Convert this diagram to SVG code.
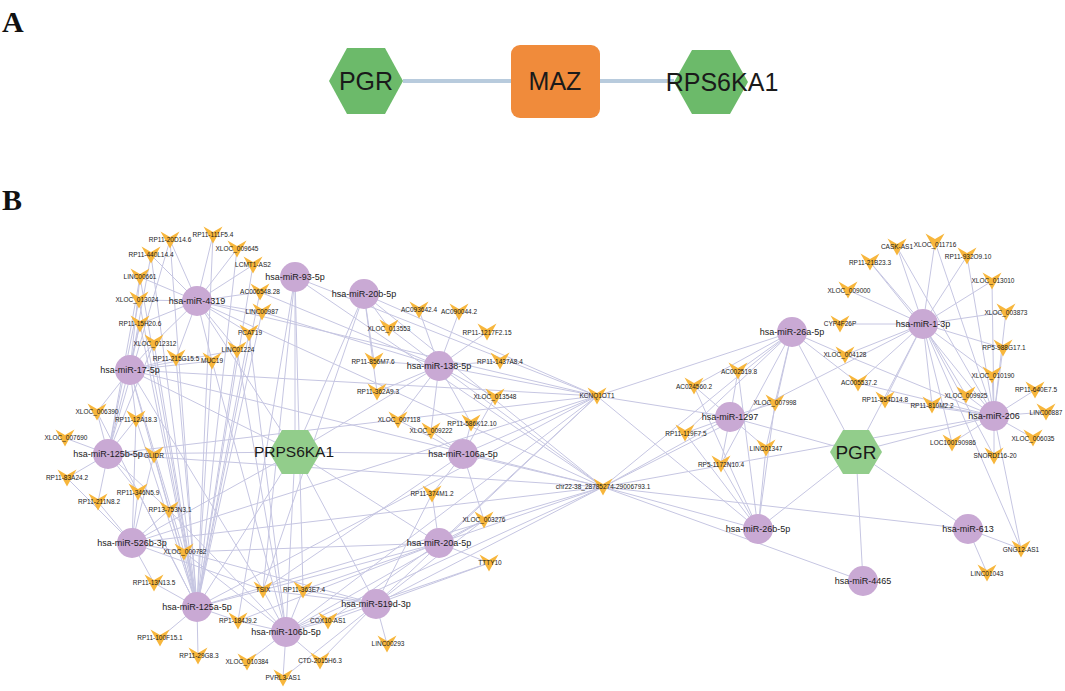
<svg xmlns="http://www.w3.org/2000/svg" xmlns:xlink="http://www.w3.org/1999/xlink" width="1065" height="691" viewBox="0 0 1065 691">
<defs>
<style>
.e{stroke:#c6c6e2;stroke-width:1;fill:none}
.ea{stroke:#b8cbdd;stroke-width:4;fill:none}
.v{fill:#f7b63c}
.m{fill:#c9a9d4}
.h{fill:#92cd8b}
.ha{fill:#6cba6a}
.t{font-family:"Liberation Sans",Arial,sans-serif;fill:#1a1a1a;text-anchor:middle}
.s{font-size:6.5px}
.mt{font-size:9px}
.big{font-size:25px}
.lab{font-family:"Liberation Serif","Times New Roman",serif;font-weight:bold;font-size:30px;fill:#111}
</style>
<path id="vv" d="M-9.5,-8.5 L0,-3 L9.5,-8.5 L0,8.5 Z"/>
</defs>
<rect width="1065" height="691" fill="#fff"/>
<text class="lab" x="2" y="32">A</text>
<text class="lab" x="2" y="210">B</text>

<g id="edges-A">
<path class="ea" d="M403 81L511 81"/>
<path class="ea" d="M600 81L674 81"/>
</g>
<g id="A-PGR"><polygon class="ha" points="329,81 347,48 385,48 403,81 385,114 347,114"/><text class="t big" x="366" y="81" dy="0.35em">PGR</text></g>
<g id="A-MAZ"><rect x="511" y="45" width="89" height="73" rx="9" fill="#f08b3b"/><text class="t big" x="555" y="81" dy="0.35em">MAZ</text></g>
<g id="A-RPS6KA1"><polygon class="ha" points="674,82 692,50 730,50 748,82 730,114 692,114"/><text class="t big" x="722" y="82" dy="0.35em">RPS6KA1</text></g>

<g id="edges">
<!-- miR-4319 -->
<path class="e" d="M197 301L170 240"/><path class="e" d="M197 301L213 235"/><path class="e" d="M197 301L237 249"/><path class="e" d="M197 301L151 255"/><path class="e" d="M197 301L253 265"/><path class="e" d="M197 301L140 277"/><path class="e" d="M197 301L260 292"/><path class="e" d="M197 301L139 300"/><path class="e" d="M197 301L262 312"/><path class="e" d="M197 301L140 324"/><path class="e" d="M197 301L249 333"/><path class="e" d="M197 301L154 343"/><path class="e" d="M197 301L237 350"/><path class="e" d="M197 301L176 358"/><path class="e" d="M197 301L212 361"/><path class="e" d="M197 301L295 452"/><path class="e" d="M197 301L597 396"/><path class="e" d="M197 301L603 487"/>
<!-- miR-125a -->
<path class="e" d="M197 607L170 240"/><path class="e" d="M197 607L213 235"/><path class="e" d="M197 607L237 249"/><path class="e" d="M197 607L151 255"/><path class="e" d="M197 607L253 265"/><path class="e" d="M197 607L140 277"/><path class="e" d="M197 607L260 292"/><path class="e" d="M197 607L139 300"/><path class="e" d="M197 607L262 312"/><path class="e" d="M197 607L140 324"/><path class="e" d="M197 607L249 333"/><path class="e" d="M197 607L154 343"/><path class="e" d="M197 607L237 350"/><path class="e" d="M197 607L176 358"/><path class="e" d="M197 607L212 361"/><path class="e" d="M197 607L97 412"/><path class="e" d="M197 607L136 419"/><path class="e" d="M197 607L154 455"/><path class="e" d="M197 607L138 492"/><path class="e" d="M197 607L169 510"/><path class="e" d="M197 607L184 552"/><path class="e" d="M197 607L154 583"/><path class="e" d="M197 607L160 638"/><path class="e" d="M197 607L198 656"/><path class="e" d="M197 607L238 621"/><path class="e" d="M197 607L263 590"/><path class="e" d="M197 607L295 452"/><path class="e" d="M197 607L603 487"/><path class="e" d="M197 607L597 396"/>
<!-- miR-125b -->
<path class="e" d="M108 454L97 412"/><path class="e" d="M108 454L136 419"/><path class="e" d="M108 454L65 438"/><path class="e" d="M108 454L154 455"/><path class="e" d="M108 454L67 478"/><path class="e" d="M108 454L138 492"/><path class="e" d="M108 454L98 502"/><path class="e" d="M108 454L169 510"/><path class="e" d="M108 454L295 452"/><path class="e" d="M108 454L597 396"/><path class="e" d="M108 454L603 487"/><path class="e" d="M108 454L170 240"/><path class="e" d="M108 454L140 277"/><path class="e" d="M108 454L139 300"/><path class="e" d="M108 454L140 324"/><path class="e" d="M108 454L154 343"/>
<!-- miR-17 -->
<path class="e" d="M130 370L97 412"/><path class="e" d="M130 370L136 419"/><path class="e" d="M130 370L140 324"/><path class="e" d="M130 370L154 343"/><path class="e" d="M130 370L176 358"/><path class="e" d="M130 370L212 361"/><path class="e" d="M130 370L237 350"/><path class="e" d="M130 370L151 255"/><path class="e" d="M130 370L140 277"/><path class="e" d="M130 370L295 452"/><path class="e" d="M130 370L597 396"/><path class="e" d="M130 370L603 487"/><path class="e" d="M130 370L263 590"/><path class="e" d="M130 370L184 552"/><path class="e" d="M130 370L169 510"/>
<!-- miR-526b -->
<path class="e" d="M132 543L184 552"/><path class="e" d="M132 543L154 583"/><path class="e" d="M132 543L98 502"/><path class="e" d="M132 543L169 510"/><path class="e" d="M132 543L138 492"/><path class="e" d="M132 543L67 478"/><path class="e" d="M132 543L295 452"/><path class="e" d="M132 543L603 487"/><path class="e" d="M132 543L597 396"/><path class="e" d="M132 543L263 590"/><path class="e" d="M132 543L136 419"/><path class="e" d="M132 543L154 455"/>
<!-- miR-106b -->
<path class="e" d="M286 632L238 621"/><path class="e" d="M286 632L247 662"/><path class="e" d="M286 632L283 678"/><path class="e" d="M286 632L320 661"/><path class="e" d="M286 632L328 621"/><path class="e" d="M286 632L263 590"/><path class="e" d="M286 632L303 590"/><path class="e" d="M286 632L295 452"/><path class="e" d="M286 632L184 552"/><path class="e" d="M286 632L169 510"/><path class="e" d="M286 632L603 487"/><path class="e" d="M286 632L597 396"/><path class="e" d="M286 632L212 361"/><path class="e" d="M286 632L237 350"/><path class="e" d="M286 632L249 333"/><path class="e" d="M286 632L484 520"/><path class="e" d="M286 632L489 563"/>
<!-- miR-519d -->
<path class="e" d="M376 604L328 621"/><path class="e" d="M376 604L387 644"/><path class="e" d="M376 604L320 661"/><path class="e" d="M376 604L303 590"/><path class="e" d="M376 604L263 590"/><path class="e" d="M376 604L295 452"/><path class="e" d="M376 604L603 487"/><path class="e" d="M376 604L597 396"/><path class="e" d="M376 604L484 520"/><path class="e" d="M376 604L489 563"/><path class="e" d="M376 604L432 494"/><path class="e" d="M376 604L184 552"/><path class="e" d="M376 604L283 678"/>
<!-- miR-20a -->
<path class="e" d="M439 543L484 520"/><path class="e" d="M439 543L489 563"/><path class="e" d="M439 543L432 494"/><path class="e" d="M439 543L303 590"/><path class="e" d="M439 543L263 590"/><path class="e" d="M439 543L295 452"/><path class="e" d="M439 543L603 487"/><path class="e" d="M439 543L597 396"/><path class="e" d="M439 543L328 621"/><path class="e" d="M439 543L184 552"/><path class="e" d="M439 543L238 621"/>
<!-- miR-106a -->
<path class="e" d="M463 454L471 423"/><path class="e" d="M463 454L431 431"/><path class="e" d="M463 454L398 420"/><path class="e" d="M463 454L295 452"/><path class="e" d="M463 454L603 487"/><path class="e" d="M463 454L597 396"/><path class="e" d="M463 454L484 520"/><path class="e" d="M463 454L263 590"/><path class="e" d="M463 454L495 397"/><path class="e" d="M463 454L432 494"/>
<!-- miR-138 -->
<path class="e" d="M439 366L419 310"/><path class="e" d="M439 366L459 312"/><path class="e" d="M439 366L389 328"/><path class="e" d="M439 366L487 332"/><path class="e" d="M439 366L374 361"/><path class="e" d="M439 366L500 361"/><path class="e" d="M439 366L377 392"/><path class="e" d="M439 366L495 397"/><path class="e" d="M439 366L398 420"/><path class="e" d="M439 366L471 423"/><path class="e" d="M439 366L431 431"/><path class="e" d="M439 366L295 452"/><path class="e" d="M439 366L597 396"/><path class="e" d="M439 366L603 487"/><path class="e" d="M439 366L262 312"/><path class="e" d="M439 366L260 292"/>
<!-- miR-20b -->
<path class="e" d="M364 294L389 328"/><path class="e" d="M364 294L295 452"/><path class="e" d="M364 294L597 396"/><path class="e" d="M364 294L263 590"/><path class="e" d="M364 294L603 487"/><path class="e" d="M364 294L374 361"/><path class="e" d="M364 294L377 392"/>
<!-- miR-93 -->
<path class="e" d="M295 277L295 452"/><path class="e" d="M295 277L263 590"/><path class="e" d="M295 277L238 621"/><path class="e" d="M295 277L597 396"/><path class="e" d="M295 277L603 487"/><path class="e" d="M295 277L303 590"/>
<!-- miR-26a -->
<path class="e" d="M792 332L738 371"/><path class="e" d="M792 332L694 386"/><path class="e" d="M792 332L775 403"/><path class="e" d="M792 332L685 433"/><path class="e" d="M792 332L766 448"/><path class="e" d="M792 332L721 464"/><path class="e" d="M792 332L597 396"/><path class="e" d="M792 332L603 487"/><path class="e" d="M792 332L856 452"/><path class="e" d="M792 332L845 355"/><path class="e" d="M792 332L858 383"/>
<!-- miR-1297 -->
<path class="e" d="M730 417L738 371"/><path class="e" d="M730 417L694 386"/><path class="e" d="M730 417L775 403"/><path class="e" d="M730 417L685 433"/><path class="e" d="M730 417L766 448"/><path class="e" d="M730 417L721 464"/><path class="e" d="M730 417L597 396"/><path class="e" d="M730 417L603 487"/><path class="e" d="M730 417L856 452"/>
<!-- miR-26b -->
<path class="e" d="M758 529L738 371"/><path class="e" d="M758 529L694 386"/><path class="e" d="M758 529L775 403"/><path class="e" d="M758 529L685 433"/><path class="e" d="M758 529L766 448"/><path class="e" d="M758 529L721 464"/><path class="e" d="M758 529L597 396"/><path class="e" d="M758 529L603 487"/><path class="e" d="M758 529L856 452"/>
<!-- miR-1-3p -->
<path class="e" d="M923 324L897 247"/><path class="e" d="M923 324L935 242"/><path class="e" d="M923 324L967 256"/><path class="e" d="M923 324L870 262"/><path class="e" d="M923 324L992 281"/><path class="e" d="M923 324L848 290"/><path class="e" d="M923 324L1006 312"/><path class="e" d="M923 324L840 324"/><path class="e" d="M923 324L1003 348"/><path class="e" d="M923 324L845 355"/><path class="e" d="M923 324L992 375"/><path class="e" d="M923 324L858 383"/><path class="e" d="M923 324L885 400"/><path class="e" d="M923 324L966 395"/><path class="e" d="M923 324L932 405"/><path class="e" d="M923 324L952 443"/><path class="e" d="M923 324L994 456"/><path class="e" d="M923 324L856 452"/><path class="e" d="M923 324L603 487"/><path class="e" d="M923 324L1021 549"/>
<!-- miR-206 -->
<path class="e" d="M994 416L992 375"/><path class="e" d="M994 416L1035 390"/><path class="e" d="M994 416L1046 412"/><path class="e" d="M994 416L966 395"/><path class="e" d="M994 416L1033 438"/><path class="e" d="M994 416L994 456"/><path class="e" d="M994 416L952 443"/><path class="e" d="M994 416L932 405"/><path class="e" d="M994 416L885 400"/><path class="e" d="M994 416L858 383"/><path class="e" d="M994 416L856 452"/><path class="e" d="M994 416L603 487"/><path class="e" d="M994 416L897 247"/><path class="e" d="M994 416L935 242"/><path class="e" d="M994 416L967 256"/><path class="e" d="M994 416L992 281"/><path class="e" d="M994 416L1006 312"/><path class="e" d="M994 416L1003 348"/><path class="e" d="M994 416L1021 549"/><path class="e" d="M994 416L845 355"/><path class="e" d="M994 416L870 262"/>
<!-- miR-613, miR-4465 -->
<path class="e" d="M968 529L856 452"/><path class="e" d="M968 529L987 573"/><path class="e" d="M968 529L1021 549"/><path class="e" d="M968 529L603 487"/>
<path class="e" d="M863 581L856 452"/><path class="e" d="M863 581L603 487"/>
</g>

<g id="n-PRPS6KA1"><polygon class="h" points="269,452 282,430 308,430 321,452 308,474 282,474"/><text class="t" font-size="15.5" x="294" y="452" dy="0.35em">PRPS6KA1</text></g>
<g id="n-PGR"><polygon class="h" points="830,452 843,430 869,430 882,452 869,474 843,474"/><text class="t" font-size="19" x="856" y="452" dy="0.35em">PGR</text></g>

<g id="n-miR-4319"><circle class="m" cx="197" cy="301" r="15"/><text class="t mt" x="197" y="301" dy="0.35em">hsa-miR-4319</text></g>
<g id="n-miR-93-5p"><circle class="m" cx="295" cy="277" r="15"/><text class="t mt" x="295" y="277" dy="0.35em">hsa-miR-93-5p</text></g>
<g id="n-miR-20b-5p"><circle class="m" cx="364" cy="294" r="15"/><text class="t mt" x="364" y="294" dy="0.35em">hsa-miR-20b-5p</text></g>
<g id="n-miR-17-5p"><circle class="m" cx="130" cy="370" r="15"/><text class="t mt" x="130" y="370" dy="0.35em">hsa-miR-17-5p</text></g>
<g id="n-miR-138-5p"><circle class="m" cx="439" cy="366" r="15"/><text class="t mt" x="439" y="366" dy="0.35em">hsa-miR-138-5p</text></g>
<g id="n-miR-125b-5p"><circle class="m" cx="108" cy="454" r="15"/><text class="t mt" x="108" y="454" dy="0.35em">hsa-miR-125b-5p</text></g>
<g id="n-miR-106a-5p"><circle class="m" cx="463" cy="454" r="15"/><text class="t mt" x="463" y="454" dy="0.35em">hsa-miR-106a-5p</text></g>
<g id="n-miR-526b-3p"><circle class="m" cx="132" cy="543" r="15"/><text class="t mt" x="132" y="543" dy="0.35em">hsa-miR-526b-3p</text></g>
<g id="n-miR-20a-5p"><circle class="m" cx="439" cy="543" r="15"/><text class="t mt" x="439" y="543" dy="0.35em">hsa-miR-20a-5p</text></g>
<g id="n-miR-519d-3p"><circle class="m" cx="376" cy="604" r="15"/><text class="t mt" x="376" y="604" dy="0.35em">hsa-miR-519d-3p</text></g>
<g id="n-miR-125a-5p"><circle class="m" cx="197" cy="607" r="15"/><text class="t mt" x="197" y="607" dy="0.35em">hsa-miR-125a-5p</text></g>
<g id="n-miR-106b-5p"><circle class="m" cx="286" cy="632" r="15"/><text class="t mt" x="286" y="632" dy="0.35em">hsa-miR-106b-5p</text></g>
<g id="n-miR-26a-5p"><circle class="m" cx="792" cy="332" r="15"/><text class="t mt" x="792" y="332" dy="0.35em">hsa-miR-26a-5p</text></g>
<g id="n-miR-1297"><circle class="m" cx="730" cy="417" r="15"/><text class="t mt" x="730" y="417" dy="0.35em">hsa-miR-1297</text></g>
<g id="n-miR-26b-5p"><circle class="m" cx="758" cy="529" r="15"/><text class="t mt" x="758" y="529" dy="0.35em">hsa-miR-26b-5p</text></g>
<g id="n-miR-1-3p"><circle class="m" cx="923" cy="324" r="15"/><text class="t mt" x="923" y="324" dy="0.35em">hsa-miR-1-3p</text></g>
<g id="n-miR-206"><circle class="m" cx="994" cy="416" r="15"/><text class="t mt" x="994" y="416" dy="0.35em">hsa-miR-206</text></g>
<g id="n-miR-613"><circle class="m" cx="968" cy="529" r="15"/><text class="t mt" x="968" y="529" dy="0.35em">hsa-miR-613</text></g>
<g id="n-miR-4465"><circle class="m" cx="863" cy="581" r="15"/><text class="t mt" x="863" y="581" dy="0.35em">hsa-miR-4465</text></g>

<g id="n-RP11-20D14.6"><use href="#vv" class="v" x="170" y="240"/><text class="t s" x="170" y="240" dy="0.35em">RP11-20D14.6</text></g>
<g id="n-RP11-111F5.4"><use href="#vv" class="v" x="213" y="235"/><text class="t s" x="213" y="235" dy="0.35em">RP11-111F5.4</text></g>
<g id="n-XLOC_009645"><use href="#vv" class="v" x="237" y="249"/><text class="t s" x="237" y="249" dy="0.35em">XLOC_009645</text></g>
<g id="n-RP11-440L14.4"><use href="#vv" class="v" x="151" y="255"/><text class="t s" x="151" y="255" dy="0.35em">RP11-440L14.4</text></g>
<g id="n-LCMT1-AS2"><use href="#vv" class="v" x="253" y="265"/><text class="t s" x="253" y="265" dy="0.35em">LCMT1-AS2</text></g>
<g id="n-LINC00661"><use href="#vv" class="v" x="140" y="277"/><text class="t s" x="140" y="277" dy="0.35em">LINC00661</text></g>
<g id="n-AC006548.28"><use href="#vv" class="v" x="260" y="292"/><text class="t s" x="260" y="292" dy="0.35em">AC006548.28</text></g>
<g id="n-XLOC_013024"><use href="#vv" class="v" x="139" y="300"/><text class="t s" x="137" y="300" dy="0.35em">XLOC_013024</text></g>
<g id="n-LINC00987"><use href="#vv" class="v" x="262" y="312"/><text class="t s" x="262" y="312" dy="0.35em">LINC00987</text></g>
<g id="n-RP11-15H20.6"><use href="#vv" class="v" x="140" y="324"/><text class="t s" x="140" y="324" dy="0.35em">RP11-15H20.6</text></g>
<g id="n-PCAT19"><use href="#vv" class="v" x="249" y="333"/><text class="t s" x="250" y="333" dy="0.35em">PCAT19</text></g>
<g id="n-XLOC_012312"><use href="#vv" class="v" x="154" y="343"/><text class="t s" x="155" y="344" dy="0.35em">XLOC_012312</text></g>
<g id="n-LINC01224"><use href="#vv" class="v" x="237" y="350"/><text class="t s" x="238" y="350" dy="0.35em">LINC01224</text></g>
<g id="n-RP11-215G15.5"><use href="#vv" class="v" x="176" y="358"/><text class="t s" x="176" y="359" dy="0.35em">RP11-215G15.5</text></g>
<g id="n-MUC19"><use href="#vv" class="v" x="212" y="361"/><text class="t s" x="212" y="361" dy="0.35em">MUC19</text></g>
<g id="n-XLOC_006390"><use href="#vv" class="v" x="97" y="412"/><text class="t s" x="97" y="412" dy="0.35em">XLOC_006390</text></g>
<g id="n-RP11-12A18.3"><use href="#vv" class="v" x="136" y="419"/><text class="t s" x="136" y="420" dy="0.35em">RP11-12A18.3</text></g>
<g id="n-XLOC_007690"><use href="#vv" class="v" x="65" y="438"/><text class="t s" x="66" y="438" dy="0.35em">XLOC_007690</text></g>
<g id="n-GLIDR"><use href="#vv" class="v" x="154" y="455"/><text class="t s" x="154" y="456" dy="0.35em">GLIDR</text></g>
<g id="n-RP11-83A24.2"><use href="#vv" class="v" x="67" y="478"/><text class="t s" x="67" y="478" dy="0.35em">RP11-83A24.2</text></g>
<g id="n-RP11-346N5.9"><use href="#vv" class="v" x="138" y="492"/><text class="t s" x="138" y="493" dy="0.35em">RP11-346N5.9</text></g>
<g id="n-RP11-211N8.2"><use href="#vv" class="v" x="98" y="502"/><text class="t s" x="99" y="502" dy="0.35em">RP11-211N8.2</text></g>
<g id="n-RP13-753N3.1"><use href="#vv" class="v" x="169" y="510"/><text class="t s" x="170" y="510" dy="0.35em">RP13-753N3.1</text></g>
<g id="n-XLOC_000782"><use href="#vv" class="v" x="184" y="552"/><text class="t s" x="185" y="552" dy="0.35em">XLOC_000782</text></g>
<g id="n-RP11-13N13.5"><use href="#vv" class="v" x="154" y="583"/><text class="t s" x="154" y="583" dy="0.35em">RP11-13N13.5</text></g>
<g id="n-TSIX"><use href="#vv" class="v" x="263" y="590"/><text class="t s" x="263" y="590" dy="0.35em">TSIX</text></g>
<g id="n-RP1-184J9.2"><use href="#vv" class="v" x="238" y="621"/><text class="t s" x="238" y="621" dy="0.35em">RP1-184J9.2</text></g>
<g id="n-RP11-100F15.1"><use href="#vv" class="v" x="160" y="638"/><text class="t s" x="160" y="638" dy="0.35em">RP11-100F15.1</text></g>
<g id="n-RP11-29G8.3"><use href="#vv" class="v" x="198" y="656"/><text class="t s" x="199" y="656" dy="0.35em">RP11-29G8.3</text></g>
<g id="n-XLOC_010384"><use href="#vv" class="v" x="247" y="662"/><text class="t s" x="247" y="662" dy="0.35em">XLOC_010384</text></g>
<g id="n-AC093642.4"><use href="#vv" class="v" x="419" y="310"/><text class="t s" x="419" y="310" dy="0.35em">AC093642.4</text></g>
<g id="n-AC090044.2"><use href="#vv" class="v" x="459" y="312"/><text class="t s" x="459" y="312" dy="0.35em">AC090044.2</text></g>
<g id="n-XLOC_013553"><use href="#vv" class="v" x="389" y="328"/><text class="t s" x="389" y="329" dy="0.35em">XLOC_013553</text></g>
<g id="n-RP11-1217F2.15"><use href="#vv" class="v" x="487" y="332"/><text class="t s" x="487" y="333" dy="0.35em">RP11-1217F2.15</text></g>
<g id="n-RP11-856M7.6"><use href="#vv" class="v" x="374" y="361"/><text class="t s" x="373" y="362" dy="0.35em">RP11-856M7.6</text></g>
<g id="n-RP11-1437A8.4"><use href="#vv" class="v" x="500" y="361"/><text class="t s" x="500" y="362" dy="0.35em">RP11-1437A8.4</text></g>
<g id="n-RP11-362A9.3"><use href="#vv" class="v" x="377" y="392"/><text class="t s" x="378" y="392" dy="0.35em">RP11-362A9.3</text></g>
<g id="n-XLOC_013548"><use href="#vv" class="v" x="495" y="397"/><text class="t s" x="495" y="397" dy="0.35em">XLOC_013548</text></g>
<g id="n-XLOC_007118"><use href="#vv" class="v" x="398" y="420"/><text class="t s" x="399" y="420" dy="0.35em">XLOC_007118</text></g>
<g id="n-RP11-586K12.10"><use href="#vv" class="v" x="471" y="423"/><text class="t s" x="472" y="424" dy="0.35em">RP11-586K12.10</text></g>
<g id="n-XLOC_009222"><use href="#vv" class="v" x="431" y="431"/><text class="t s" x="431" y="431" dy="0.35em">XLOC_009222</text></g>
<g id="n-RP11-374M1.2"><use href="#vv" class="v" x="432" y="494"/><text class="t s" x="432" y="494" dy="0.35em">RP11-374M1.2</text></g>
<g id="n-XLOC_003276"><use href="#vv" class="v" x="484" y="520"/><text class="t s" x="484" y="520" dy="0.35em">XLOC_003276</text></g>
<g id="n-TTTY10"><use href="#vv" class="v" x="489" y="563"/><text class="t s" x="490" y="563" dy="0.35em">TTTY10</text></g>
<g id="n-RP11-363E7.4"><use href="#vv" class="v" x="303" y="590"/><text class="t s" x="304" y="590" dy="0.35em">RP11-363E7.4</text></g>
<g id="n-COX10-AS1"><use href="#vv" class="v" x="328" y="621"/><text class="t s" x="328" y="621" dy="0.35em">COX10-AS1</text></g>
<g id="n-LINC00293"><use href="#vv" class="v" x="387" y="644"/><text class="t s" x="388" y="644" dy="0.35em">LINC00293</text></g>
<g id="n-CTD-2015H6.3"><use href="#vv" class="v" x="320" y="661"/><text class="t s" x="320" y="661" dy="0.35em">CTD-2015H6.3</text></g>
<g id="n-PVRL3-AS1"><use href="#vv" class="v" x="283" y="678"/><text class="t s" x="283" y="678" dy="0.35em">PVRL3-AS1</text></g>
<g id="n-KCNQ1OT1"><use href="#vv" class="v" x="597" y="396"/><text class="t s" x="597" y="396" dy="0.35em">KCNQ1OT1</text></g>
<g id="n-chr22"><use href="#vv" class="v" x="603" y="487"/><text class="t s" x="603" y="487" dy="0.35em">chr22-38_28785274-29006793.1</text></g>
<g id="n-AC002519.8"><use href="#vv" class="v" x="738" y="371"/><text class="t s" x="739" y="372" dy="0.35em">AC002519.8</text></g>
<g id="n-AC024560.2"><use href="#vv" class="v" x="694" y="386"/><text class="t s" x="694" y="387" dy="0.35em">AC024560.2</text></g>
<g id="n-XLOC_007998"><use href="#vv" class="v" x="775" y="403"/><text class="t s" x="775" y="403" dy="0.35em">XLOC_007998</text></g>
<g id="n-RP11-119F7.5"><use href="#vv" class="v" x="685" y="433"/><text class="t s" x="686" y="434" dy="0.35em">RP11-119F7.5</text></g>
<g id="n-LINC01347"><use href="#vv" class="v" x="766" y="448"/><text class="t s" x="766" y="449" dy="0.35em">LINC01347</text></g>
<g id="n-RP5-1172N10.4"><use href="#vv" class="v" x="721" y="464"/><text class="t s" x="721" y="465" dy="0.35em">RP5-1172N10.4</text></g>
<g id="n-CASK-AS1"><use href="#vv" class="v" x="897" y="247"/><text class="t s" x="897" y="247" dy="0.35em">CASK-AS1</text></g>
<g id="n-XLOC_011716"><use href="#vv" class="v" x="935" y="242"/><text class="t s" x="935" y="245" dy="0.35em">XLOC_011716</text></g>
<g id="n-RP11-932O9.10"><use href="#vv" class="v" x="967" y="256"/><text class="t s" x="968" y="257" dy="0.35em">RP11-932O9.10</text></g>
<g id="n-RP11-21B23.3"><use href="#vv" class="v" x="870" y="262"/><text class="t s" x="870" y="263" dy="0.35em">RP11-21B23.3</text></g>
<g id="n-XLOC_013010"><use href="#vv" class="v" x="992" y="281"/><text class="t s" x="993" y="281" dy="0.35em">XLOC_013010</text></g>
<g id="n-XLOC_009000"><use href="#vv" class="v" x="848" y="290"/><text class="t s" x="849" y="291" dy="0.35em">XLOC_009000</text></g>
<g id="n-XLOC_003873"><use href="#vv" class="v" x="1006" y="312"/><text class="t s" x="1006" y="313" dy="0.35em">XLOC_003873</text></g>
<g id="n-CYP4F26P"><use href="#vv" class="v" x="840" y="324"/><text class="t s" x="840" y="324" dy="0.35em">CYP4F26P</text></g>
<g id="n-RP5-988G17.1"><use href="#vv" class="v" x="1003" y="348"/><text class="t s" x="1004" y="348" dy="0.35em">RP5-988G17.1</text></g>
<g id="n-XLOC_004128"><use href="#vv" class="v" x="845" y="355"/><text class="t s" x="845" y="355" dy="0.35em">XLOC_004128</text></g>
<g id="n-XLOC_010190"><use href="#vv" class="v" x="992" y="375"/><text class="t s" x="993" y="376" dy="0.35em">XLOC_010190</text></g>
<g id="n-AC005537.2"><use href="#vv" class="v" x="858" y="383"/><text class="t s" x="859" y="383" dy="0.35em">AC005537.2</text></g>
<g id="n-RP11-554D14.8"><use href="#vv" class="v" x="885" y="400"/><text class="t s" x="885" y="400" dy="0.35em">RP11-554D14.8</text></g>
<g id="n-XLOC_009925"><use href="#vv" class="v" x="966" y="395"/><text class="t s" x="966" y="396" dy="0.35em">XLOC_009925</text></g>
<g id="n-RP11-640E7.5"><use href="#vv" class="v" x="1035" y="390"/><text class="t s" x="1036" y="390" dy="0.35em">RP11-640E7.5</text></g>
<g id="n-RP11-810M2.2"><use href="#vv" class="v" x="932" y="405"/><text class="t s" x="932" y="406" dy="0.35em">RP11-810M2.2</text></g>
<g id="n-LINC00887"><use href="#vv" class="v" x="1046" y="412"/><text class="t s" x="1046" y="413" dy="0.35em">LINC00887</text></g>
<g id="n-LOC100190986"><use href="#vv" class="v" x="952" y="443"/><text class="t s" x="953" y="443" dy="0.35em">LOC100190986</text></g>
<g id="n-XLOC_006035"><use href="#vv" class="v" x="1033" y="438"/><text class="t s" x="1033" y="439" dy="0.35em">XLOC_006035</text></g>
<g id="n-SNORD116-20"><use href="#vv" class="v" x="994" y="456"/><text class="t s" x="995" y="456" dy="0.35em">SNORD116-20</text></g>
<g id="n-GNG12-AS1"><use href="#vv" class="v" x="1021" y="549"/><text class="t s" x="1021" y="550" dy="0.35em">GNG12-AS1</text></g>
<g id="n-LINC01043"><use href="#vv" class="v" x="987" y="573"/><text class="t s" x="987" y="574" dy="0.35em">LINC01043</text></g>
</svg>
